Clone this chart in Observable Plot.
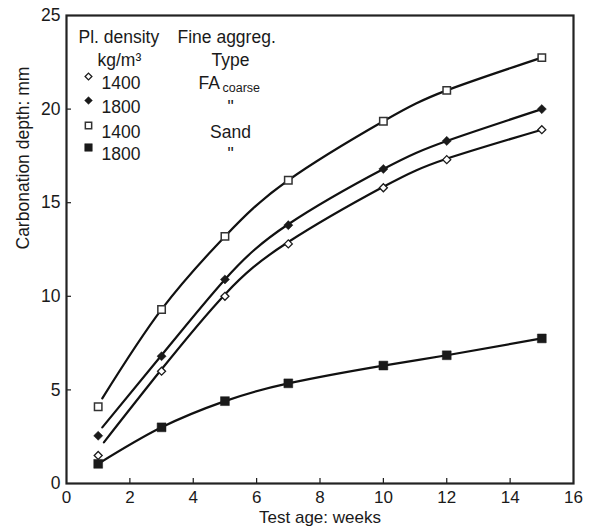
<!DOCTYPE html>
<html><head><meta charset="utf-8">
<script src="https://cdn.jsdelivr.net/npm/d3@7"></script>
<script src="https://cdn.jsdelivr.net/npm/@observablehq/plot@0.6"></script>
<style>
html,body{margin:0;padding:0;background:#fff;}
</style></head><body><div id="chart"></div>
<script>
// Measured points (test age in weeks, carbonation depth in mm)
const weeks = [1, 3, 5, 7, 10, 12, 15];
const fa1400 = [1.5, 6.0, 10.0, 12.8, 15.8, 17.3, 18.9];
const fa1800 = [2.55, 6.8, 10.9, 13.8, 16.8, 18.3, 20.0];
const sand1400 = [4.1, 9.3, 13.2, 16.2, 19.35, 21.0, 22.75];
const sand1800 = [1.05, 3.0, 4.4, 5.35, 6.3, 6.85, 7.75];

// Fitted curves
const fa1400FitX = [1.18, 3, 5, 7, 10, 12, 15];
const fa1400FitY = [2.2, 6.1, 10.1, 12.9, 15.85, 17.35, 18.9];
const fa1800FitX = [1.13, 3, 5, 7, 10, 12, 15];
const fa1800FitY = [3.0, 6.85, 10.9, 13.85, 16.8, 18.3, 20.0];
const sand1400FitX = [1.13, 3, 5, 7, 10, 12, 15];
const sand1400FitY = [4.55, 9.3, 13.2, 16.2, 19.35, 21.0, 22.75];
const sand1800FitX = [1, 3, 5, 7, 10, 12, 15];
const sand1800FitY = [1.05, 3.0, 4.4, 5.35, 6.3, 6.85, 7.75];

// Axis ticks
const xTicks = [0, 2, 4, 6, 8, 10, 12, 14, 16];
const yTicks = [0, 5, 10, 15, 20, 25];

// Legend texts
const legendHeader1 = ["Pl. density", "kg/m³"];
const legendHeader2 = ["Fine aggreg.", "Type"];
const legendDensity = ["1400", "1800", "1400", "1800"];
const legendType = ["FA", "\"", "Sand", "\""];
const legendSub = "coarse";

const W = 589, H = 531, mL = 66, mR = 16, mT = 15, mB = 48;
const plotW = W - mL - mR, plotH = H - mT - mB;
const ink = "#1a1a1a";

const zip = (xs, ys) => xs.map((x, i) => ({x, y: ys[i]}));

const series = [
  {pts: zip(weeks, fa1400), fit: zip(fa1400FitX, fa1400FitY), symbol: "diamond2", r: 3.6, fill: "white", stroke: ink, sw: 1.3},
  {pts: zip(weeks, fa1800), fit: zip(fa1800FitX, fa1800FitY), symbol: "diamond2", r: 4.1, fill: ink, stroke: ink, sw: 0.5},
  {pts: zip(weeks, sand1400), fit: zip(sand1400FitX, sand1400FitY), symbol: "square", r: 4.2, fill: "white", stroke: "#333", sw: 1.5},
  {pts: zip(weeks, sand1800), fit: zip(sand1800FitX, sand1800FitY), symbol: "square", r: 5.0, fill: ink, stroke: ink, sw: 0.5}
];

const rowDy = [61, 85, 110, 132];
const marks = [
  Plot.axisX({ticks: xTicks, tickSize: 0, tickPadding: 7, label: null, fill: ink, fontSize: 17}),
  Plot.axisY({ticks: yTicks, tickSize: 0, tickPadding: 6, label: null, fill: ink}),
  Plot.tickX(xTicks.slice(1, -1), {x: d => d, insetTop: plotH - 5, stroke: ink, strokeWidth: 1.2}),
  Plot.tickY(yTicks.slice(1, -1), {y: d => d, insetRight: plotW - 5, stroke: ink, strokeWidth: 1.2}),
  Plot.frame({stroke: "#222", strokeWidth: 2.2}),
  Plot.text(["Test age: weeks"], {frameAnchor: "bottom", dy: 39, fill: ink, fontSize: 17}),
  Plot.text(["Carbonation depth: mm"], {frameAnchor: "left", dx: -43, rotate: -90, fill: ink})
];

for (const s of series) {
  marks.push(Plot.line(s.fit, {x: "x", y: "y", curve: "natural", stroke: "#111", strokeWidth: 2.2}));
}
for (const s of series) {
  marks.push(Plot.dot(s.pts, {x: "x", y: "y", symbol: s.symbol, r: s.r, fill: s.fill, stroke: s.stroke, strokeWidth: s.sw}));
}

// Legend
marks.push(Plot.text([legendHeader1[0]], {frameAnchor: "top-left", dx: 12, dy: 15, textAnchor: "start", fill: ink}));
marks.push(Plot.text([legendHeader2[0]], {frameAnchor: "top-left", dx: 111, dy: 15, textAnchor: "start", fill: ink}));
marks.push(Plot.text([legendHeader1[1]], {frameAnchor: "top-left", dx: 31, dy: 38, textAnchor: "start", fill: ink}));
marks.push(Plot.text([legendHeader2[1]], {frameAnchor: "top-left", dx: 164, dy: 38, textAnchor: "middle", fill: ink}));
series.forEach((s, i) => {
  const scale = 0.85;
  marks.push(Plot.dot([0], {frameAnchor: "top-left", dx: 22, dy: rowDy[i], symbol: s.symbol, r: s.r * scale, fill: s.fill, stroke: s.stroke, strokeWidth: s.sw}));
  marks.push(Plot.text([legendDensity[i]], {frameAnchor: "top-left", dx: 35, dy: rowDy[i], textAnchor: "start", fill: ink}));
  if (i === 0) {
    marks.push(Plot.text([legendType[i]], {frameAnchor: "top-left", dx: 132, dy: rowDy[i], textAnchor: "start", fill: ink}));
    marks.push(Plot.text([legendSub], {frameAnchor: "top-left", dx: 156, dy: rowDy[i] + 7, textAnchor: "start", fontSize: 12.5, fill: ink}));
  } else {
    marks.push(Plot.text([legendType[i]], {frameAnchor: "top-left", dx: 164, dy: rowDy[i], textAnchor: "middle", fill: ink}));
  }
});

const chart = Plot.plot({
  width: W, height: H,
  marginLeft: mL, marginRight: mR, marginTop: mT, marginBottom: mB,
  style: {fontFamily: "'Liberation Sans', Arial, sans-serif", fontSize: "17.5px", color: ink, background: "#fff"},
  x: {domain: [0, 16]},
  y: {domain: [0, 25]},
  marks
});
document.getElementById("chart").append(chart);
</script>
</body></html>
